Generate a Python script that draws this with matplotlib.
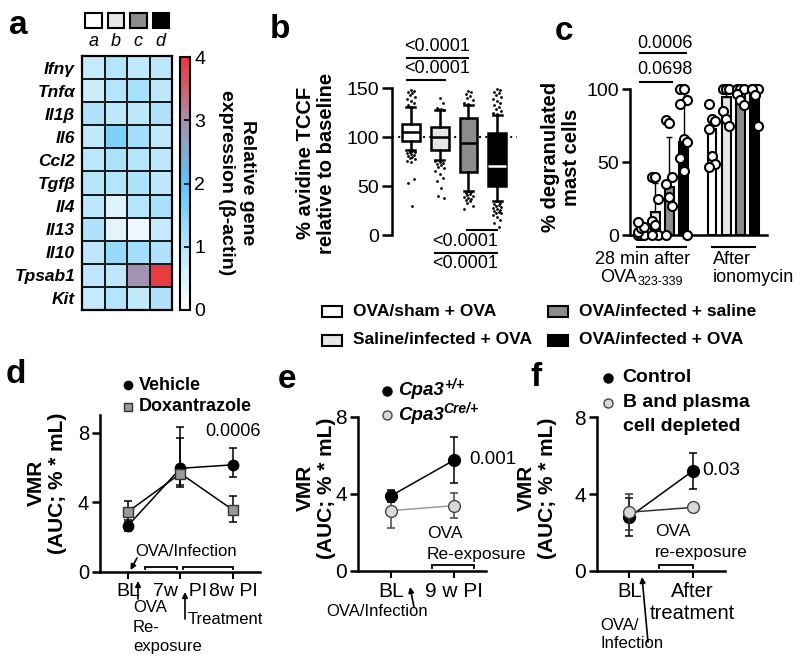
import matplotlib
matplotlib.use('Agg')
import matplotlib.pyplot as plt
from matplotlib.colors import LinearSegmentedColormap
from matplotlib.patches import Rectangle
import numpy as np

plt.rcParams['font.family'] = ['Liberation Sans', 'DejaVu Sans']

W, H = 800, 670

# ---------------- data ----------------
genes = ['Ifnγ', 'Tnfα', 'Il1β', 'Il6', 'Ccl2', 'Tgfβ', 'Il4', 'Il13', 'Il10', 'Tpsab1', 'Kit']
hm_groups = ['a', 'b', 'c', 'd']
expr = [
    [0.80, 1.00, 0.85, 0.90],
    [0.70, 1.00, 1.15, 0.90],
    [1.05, 0.90, 0.90, 1.05],
    [0.85, 1.60, 1.20, 0.85],
    [0.90, 1.10, 1.00, 0.90],
    [1.00, 1.00, 1.10, 0.90],
    [0.90, 0.45, 1.00, 1.15],
    [1.05, 0.40, 0.25, 0.80],
    [0.90, 1.35, 1.20, 1.05],
    [0.90, 0.90, 2.95, 3.90],
    [0.80, 1.00, 0.85, 1.05],
]
cbar_ticks = [0, 1, 2, 3, 4]
cbar_label = 'Relative gene\nexpression (β-actin)'

legend_labels = ['OVA/sham + OVA', 'Saline/infected + OVA',
                 'OVA/infected + saline', 'OVA/infected + OVA']
group_colors = ['#ffffff', '#e6e6e6', '#8c8c8c', '#000000']

# panel b: box plots (% avidine TCCF relative to baseline)
b_positions = [1, 2, 3, 4]
b_whislo = [87, 76.5, 45, 35]
b_q1 = [96, 87, 64, 50]
b_med = [105, 100, 94, 71]
b_q3 = [113, 110.5, 120, 104]
b_whishi = [131, 128, 132.5, 122.5]
b_fliers = [
    [148, 147, 146, 145, 143, 141, 139, 137, 135, 133,
     86, 85, 85, 84, 83, 82, 81, 80, 79, 78, 76, 75, 57, 53, 30],
    [140, 135, 130, 129, 129, 128,
     76, 75, 74, 73, 72, 70, 68, 65, 62, 58, 55, 48, 40, 38],
    [147, 146, 144, 142, 140, 138, 135, 134,
     44, 43, 42, 41, 40, 39, 38, 37, 36, 35, 33, 30, 27],
    [149, 148, 146, 145, 143, 141, 139, 137, 135, 133, 131, 129, 127, 125, 124,
     33, 32, 31, 30, 29, 28, 27, 26, 25, 24, 23, 22, 20, 18, 15, 12, 8],
]
b_ref = 100
b_yticks = [0, 50, 100, 150]

# panel c: % degranulated mast cells
c_positions = [0, 1, 2, 3, 5, 6, 7, 8]
c_means = [4, 16, 33, 64, 73, 94.5, 98, 96]
c_sd = [4.5, 20, 34, 35, 9, 5, 2, 4]
c_points = [
    [0, 0, 0, 2, 5, 6, 9],
    [40, 40, 25, 10, 7, 0, 0],
    [79, 77, 40, 35, 26, 20, 0],
    [100, 100, 93, 90, 66, 64, 53, 44, 0],
    [90, 80, 78, 73, 54, 49, 47],
    [100, 100, 100, 85, 80, 75],
    [100, 100, 100, 97, 93, 89],
    [100, 100, 100, 100, 96, 75],
]
c_yticks = [0, 50, 100]

# panel d
d_x = [0, 1, 2]
d_xticklabels = ['BL', '7w  PI', '8w PI']
d_vehicle = [2.65, 5.95, 6.15]
d_vehicle_lo = [0.3, 0.95, 0.7]
d_vehicle_hi = [0.3, 2.35, 0.95]
d_doxan = [3.45, 5.65, 3.55]
d_doxan_lo = [0.6, 0.75, 0.7]
d_doxan_hi = [0.6, 2.05, 0.8]

# panel e
e_x = [0, 1]
e_xticklabels = ['BL', '9 w PI']
e_wt = [3.88, 5.75]
e_wt_err = [0.3, 1.18]
e_cre = [3.12, 3.38]
e_cre_err = [0.9, 0.65]

# panel f
f_x = [0, 1]
f_xticklabels = ['BL', 'After\ntreatment']
f_ctrl = [2.8, 5.2]
f_ctrl_err = [1.0, 0.95]
f_dep = [3.05, 3.3]
f_dep_err = [0.95, 0.1]

vmr_yticks = [0, 4, 8]
vmr_label = 'VMR\n(AUC; % * mL)'

# ---------------- figure ----------------
fig = plt.figure(figsize=(W / 100, H / 100), dpi=100)


def rect(x0, y0, x1, y1):
    return [x0 / W, 1 - y1 / H, (x1 - x0) / W, (y1 - y0) / H]


def style_axes(ax, lw=1.8):
    for s in ['top', 'right']:
        ax.spines[s].set_visible(False)
    for s in ['left', 'bottom']:
        ax.spines[s].set_linewidth(lw)


# ---- panel a : heatmap ----
ax_a = fig.add_axes(rect(82, 56, 172, 310))
cmap = LinearSegmentedColormap.from_list(
    'hm', [(0, '#ffffff'), (0.25, '#b5e5fb'), (0.5, '#58c7f5'),
           (0.75, '#a98fae'), (1.0, '#ee3535')])
mesh = ax_a.pcolormesh(np.array(expr), cmap=cmap, vmin=0, vmax=4,
                       edgecolors='#1a1a1a', linewidth=1.3)
ax_a.set_xlim(0, len(hm_groups))
ax_a.set_ylim(len(genes), 0)
ax_a.set_yticks(np.arange(len(genes)) + 0.5)
ax_a.set_yticklabels(genes, fontsize=12.5, fontweight='bold', fontstyle='italic')
ax_a.set_xticks([])
ax_a.tick_params(axis='y', length=0, pad=5)
for s in ax_a.spines.values():
    s.set_linewidth(1.6)

cax = fig.add_axes(rect(180, 57, 190, 310))
cb = fig.colorbar(mesh, cax=cax, ticks=cbar_ticks)
cb.outline.set_linewidth(1.5)
cax.tick_params(direction='in', length=4, width=1.2, labelsize=14, pad=3)

# ---- panel b : box plots ----
ax_b = fig.add_axes(rect(391.7, 88.3, 516.7, 235))
stats = [dict(med=m, q1=a, q3=b, whislo=lo, whishi=hi, fliers=[])
         for m, a, b, lo, hi in zip(b_med, b_q1, b_q3, b_whislo, b_whishi)]
bp = ax_b.bxp(stats, positions=b_positions, widths=0.62, patch_artist=True,
              showfliers=False,
              boxprops=dict(linewidth=1.8, edgecolor='k'),
              whiskerprops=dict(linewidth=1.8, color='k'),
              capprops=dict(linewidth=1.8, color='k'),
              medianprops=dict(linewidth=1.8, color='k'))
for patch, col in zip(bp['boxes'], group_colors):
    patch.set_facecolor(col)
    patch.set_zorder(2)
bp['medians'][3].set_color('white')
spread = [0.0, 0.10, -0.10, 0.05, -0.05, 0.15, -0.15]
for pos, fl in zip(b_positions, b_fliers):
    offs = [spread[k % len(spread)] for k in range(len(fl))]
    ax_b.scatter(np.array(offs) + pos, fl, s=4, color='k', zorder=3,
                 clip_on=False, linewidths=0)
ax_b.axhline(b_ref, color='k', lw=1.4, ls=(0, (1, 2.2)), zorder=0.5)
ax_b.set_xlim(0.33, 4.68)
ax_b.set_ylim(0, 150)
ax_b.set_yticks(b_yticks)
ax_b.set_xticks([])
for s in ['top', 'right', 'bottom']:
    ax_b.spines[s].set_visible(False)
ax_b.spines['left'].set_linewidth(1.8)
ax_b.tick_params(axis='y', length=7, width=1.8, labelsize=14, pad=2)

# ---- panel c : bars ----
ax_c = fig.add_axes(rect(630, 89.3, 767, 235.3))
ax_c.bar(c_positions, c_means, width=0.63, color=group_colors * 2,
         edgecolor='k', linewidth=1.5, zorder=2)
ax_c.errorbar(c_positions, c_means, yerr=[np.zeros(len(c_sd)), c_sd], fmt='none',
              ecolor='k', elinewidth=1.0, capsize=2.5, capthick=1.0, zorder=2.5)
for pos, pts in zip(c_positions, c_points):
    offs = [((k % 3) - 1) * 0.22 for k in range(len(pts))]
    ax_c.plot(np.array(offs) + pos, pts, 'o', mfc='white', mec='k', ms=6.5,
              mew=1.5, clip_on=False, zorder=3, ls='none')
ax_c.set_xlim(-0.77, 8.87)
ax_c.set_ylim(0, 100)
ax_c.set_yticks(c_yticks)
ax_c.set_xticks([])
style_axes(ax_c, 1.8)
ax_c.tick_params(axis='y', length=6, width=1.8, labelsize=14, pad=2)


# ---- panels d, e, f ----
def vmr_axes(r, xlim, ymax, ysize, xsize):
    ax = fig.add_axes(r)
    style_axes(ax, 1.8)
    ax.set_xlim(*xlim)
    ax.set_ylim(0, ymax)
    ax.set_yticks(vmr_yticks)
    ax.tick_params(axis='y', length=6, width=1.8, labelsize=ysize, pad=2)
    ax.tick_params(axis='x', length=5, width=1.5, labelsize=xsize, pad=3)
    return ax


ax_d = vmr_axes(rect(100, 415.3, 260, 571.7), (-0.533, 2.514), 9, 14.5, 14)
ax_d.errorbar(d_x, d_vehicle, yerr=[d_vehicle_lo, d_vehicle_hi], fmt='-o',
              color='k', mfc='k', mec='k', ms=7.5, lw=1.1, elinewidth=1.1,
              capsize=3, capthick=1.1, zorder=3, clip_on=False)
ax_d.errorbar(d_x, d_doxan, yerr=[d_doxan_lo, d_doxan_hi], fmt='-s',
              color='k', mfc='#999999', mec='#333333', ms=7.5, lw=1.1,
              elinewidth=1.1, capsize=3, capthick=1.1, zorder=4, clip_on=False)
ax_d.set_xticks(d_x)
ax_d.set_xticklabels(d_xticklabels)

ax_e = vmr_axes(rect(358, 416.7, 486, 570.7), (-0.514, 1.5), 8, 15, 15)
ax_e.errorbar(e_x, e_cre, yerr=e_cre_err, fmt='-o', color='#9a9a9a',
              mfc='#d9d9d9', mec='#444444', ecolor='#444444', ms=8.5, lw=1.1,
              elinewidth=1.1, capsize=3, capthick=1.1, zorder=3)
ax_e.errorbar(e_x, e_wt, yerr=e_wt_err, fmt='-o', color='k', mfc='k', mec='k',
              ms=8.5, lw=1.1, elinewidth=1.1, capsize=3, capthick=1.1, zorder=4)
ax_e.set_xticks(e_x)
ax_e.set_xticklabels(e_xticklabels)

ax_f = vmr_axes(rect(597.3, 417.3, 725, 570.7), (-0.505, 1.509), 8, 15, 14.5)
ax_f.errorbar(f_x, f_ctrl, yerr=f_ctrl_err, fmt='-o', color='k', mfc='k',
              mec='k', ms=8.5, lw=1.1, elinewidth=1.1, capsize=3, capthick=1.1,
              zorder=3)
ax_f.errorbar(f_x, f_dep, yerr=f_dep_err, fmt='-o', color='#333333',
              mfc='#d9d9d9', mec='#444444', ecolor='#333333', ms=8.5, lw=1.1,
              elinewidth=1.1, capsize=3, capthick=1.1, zorder=4)
ax_f.set_xticks(f_x)
ax_f.set_xticklabels(f_xticklabels, linespacing=1.2)

# ---------------- overlay for annotations ----------------
ov = fig.add_axes([0, 0, 1, 1], zorder=10)
ov.set_xlim(0, W)
ov.set_ylim(H, 0)
ov.axis('off')
ov.patch.set_alpha(0)
renderer = fig.canvas.get_renderer()


def rich(x, y, parts, ha='left'):
    texts, widths = [], []
    for s, kw, dy in parts:
        t = ov.text(0, y + dy, s, ha='left', va='center', **kw)
        texts.append(t)
        widths.append(t.get_window_extent(renderer=renderer).width)
    x0 = x - sum(widths) / 2 if ha == 'center' else x
    for t, w in zip(texts, widths):
        t.set_x(x0)
        x0 += w


def bracket(x0, x1, y, tick=2.5, lw=1.3):
    ov.plot([x0, x0, x1, x1], [y + tick, y, y, y + tick], color='k', lw=lw,
            solid_joinstyle='miter')


def arrow(x0, y0, x1, y1):
    ov.annotate('', xy=(x1, y1), xytext=(x0, y0),
                arrowprops=dict(arrowstyle='-|>', color='k', lw=1.2,
                                mutation_scale=8, shrinkA=0, shrinkB=0))


# panel letters
for lab, x, y in [('a', 9, 34), ('b', 270, 38), ('c', 555, 40),
                  ('d', 6, 383), ('e', 278, 388), ('f', 530, 386)]:
    ov.text(x, y, lab, fontsize=24, fontweight='bold', va='baseline', ha='left')

# heatmap group keys
for i, (lab, col) in enumerate(zip(hm_groups, group_colors)):
    cx = 82 + 22.5 * (i + 0.5)
    ov.add_patch(Rectangle((cx - 8.25, 12.7), 16.5, 15.5, fc=col, ec='k', lw=1.5))
    ov.text(cx, 42, lab, fontsize=13, fontstyle='italic', ha='center', va='center')

ov.text(237, 183, cbar_label, rotation=-90, ha='center', va='center',
        fontsize=14, fontweight='bold', linespacing=1.3, multialignment='center')

# panel b labels
ov.text(316, 163, '% avidine TCCF\nrelative to baseline', rotation=90,
        ha='center', va='center', fontsize=14.5, fontweight='bold',
        linespacing=1.1, multialignment='center')
ov.plot([407, 468], [58, 58], 'k', lw=1.5)
ov.text(437.5, 46.5, '<0.0001', ha='center', va='center', fontsize=13)
ov.plot([407, 445], [80, 80], 'k', lw=1.5)
ov.text(437.5, 68.5, '<0.0001', ha='center', va='center', fontsize=13)
ov.plot([467, 497], [230, 230], 'k', lw=1.5)
ov.text(465, 242, '<0.0001', ha='center', va='center', fontsize=13)
ov.plot([435, 497], [252.5, 252.5], 'k', lw=1.5)
ov.text(465, 264, '<0.0001', ha='center', va='center', fontsize=13)

# shared legend
for (lab, col), (sx, sy) in zip(zip(legend_labels, group_colors),
                                [(321.7, 311.7), (321.7, 340), (548, 311.7), (548, 340)]):
    ov.add_patch(Rectangle((sx, sy - 5.5), 20, 11, fc=col, ec='k', lw=1.5))
    ov.text(sx + 31, sy, lab, fontsize=12.5, fontweight='bold', va='center', ha='left')

# panel c labels
ov.text(561, 157, '% degranulated\nmast cells', rotation=90, ha='center',
        va='center', fontsize=14.5, fontweight='bold', linespacing=1.1,
        multialignment='center')
ov.plot([640, 686], [53.3, 53.3], 'k', lw=1.5)
ov.text(664.7, 43, '0.0006', ha='center', va='center', fontsize=13)
ov.plot([640, 672], [81.7, 81.7], 'k', lw=1.5)
ov.text(664.7, 70, '0.0698', ha='center', va='center', fontsize=13)
ov.plot([637, 686], [247, 247], 'k', lw=1.5)
ov.plot([712, 755], [247, 247], 'k', lw=1.5)
ov.text(642.5, 260, '28 min after', ha='center', va='center', fontsize=13)
rich(641.5, 277, [('OVA', dict(fontsize=13), 0), ('323-339', dict(fontsize=9), 5)],
     ha='center')
ov.text(712.7, 260, 'After', ha='left', va='center', fontsize=13)
ov.text(712.7, 278, 'ionomycin', ha='left', va='center', fontsize=13)

# VMR y labels
for cx, cy in [(47, 483), (316, 488), (537, 488)]:
    ov.text(cx, cy, vmr_label, rotation=90, ha='center', va='center',
            fontsize=15, fontweight='bold', linespacing=1.1,
            multialignment='center')

# panel d annotations
ov.plot([128.3], [385], 'o', color='k', ms=6)
ov.text(139, 385, 'Vehicle', fontsize=13, fontweight='bold', va='center')
ov.plot([128.3], [406.7], 's', mfc='#999999', mec='#333333', ms=6)
ov.text(139, 406.7, 'Doxantrazole', fontsize=13, fontweight='bold', va='center')
ov.text(232.5, 432, '0.0006', ha='center', va='center', fontsize=13)
ov.text(135, 551, 'OVA/Infection', ha='left', va='center', fontsize=12)
arrow(137, 558, 130.5, 570)
bracket(145, 177, 566.7)
bracket(183, 233, 566.7)
arrow(138, 599, 138, 581)
ov.text(133, 608, 'OVA', ha='left', va='center', fontsize=12)
ov.text(133, 627.5, 'Re-', ha='left', va='center', fontsize=12)
ov.text(133, 647, 'exposure', ha='left', va='center', fontsize=12)
arrow(185, 619, 185, 592)
ov.text(188, 619, 'Treatment', ha='left', va='center', fontsize=12)

# panel e annotations
ov.plot([386.7], [390.7], 'o', color='k', ms=6.5)
rich(398, 390.7, [('Cpa3', dict(fontsize=13.5, fontweight='bold', fontstyle='italic'), 0),
                  ('+/+', dict(fontsize=10, fontweight='bold', fontstyle='italic'), -6)])
ov.plot([386.7], [415], 'o', mfc='#d9d9d9', mec='#444444', ms=6.5)
rich(398, 415, [('Cpa3', dict(fontsize=13.5, fontweight='bold', fontstyle='italic'), 0),
                ('Cre/+', dict(fontsize=10, fontweight='bold', fontstyle='italic'), -6)])
ov.text(469, 460, '0.001', ha='left', va='center', fontsize=13.5)
ov.text(427, 534, 'OVA', ha='left', va='center', fontsize=12.5)
ov.text(427, 554, 'Re-exposure', ha='left', va='center', fontsize=12.5)
bracket(432, 474, 565)
arrow(414, 607, 410, 587)
ov.text(377, 611, 'OVA/Infection', ha='center', va='center', fontsize=12)

# panel f annotations
ov.plot([608], [378], 'o', color='k', ms=6.5)
ov.text(622.7, 378, 'Control', fontsize=14, fontweight='bold', va='center')
ov.plot([608], [402.7], 'o', mfc='#d9d9d9', mec='#444444', ms=6.5)
ov.text(622.7, 402.7, 'B and plasma', fontsize=14, fontweight='bold', va='center')
ov.text(622.7, 426.7, 'cell depleted', fontsize=14, fontweight='bold', va='center')
ov.text(702.7, 470.7, '0.03', ha='left', va='center', fontsize=14)
ov.text(655, 532, 'OVA', ha='left', va='center', fontsize=12.5)
ov.text(655, 552, 're-exposure', ha='left', va='center', fontsize=12.5)
bracket(659, 692.7, 565)
arrow(648, 642, 642, 577)
ov.text(600, 625, 'OVA/', ha='left', va='center', fontsize=12)
ov.text(600, 643, 'Infection', ha='left', va='center', fontsize=12)

ov.set_xlim(0, W)
ov.set_ylim(H, 0)

fig.savefig('out.png', dpi=100)
